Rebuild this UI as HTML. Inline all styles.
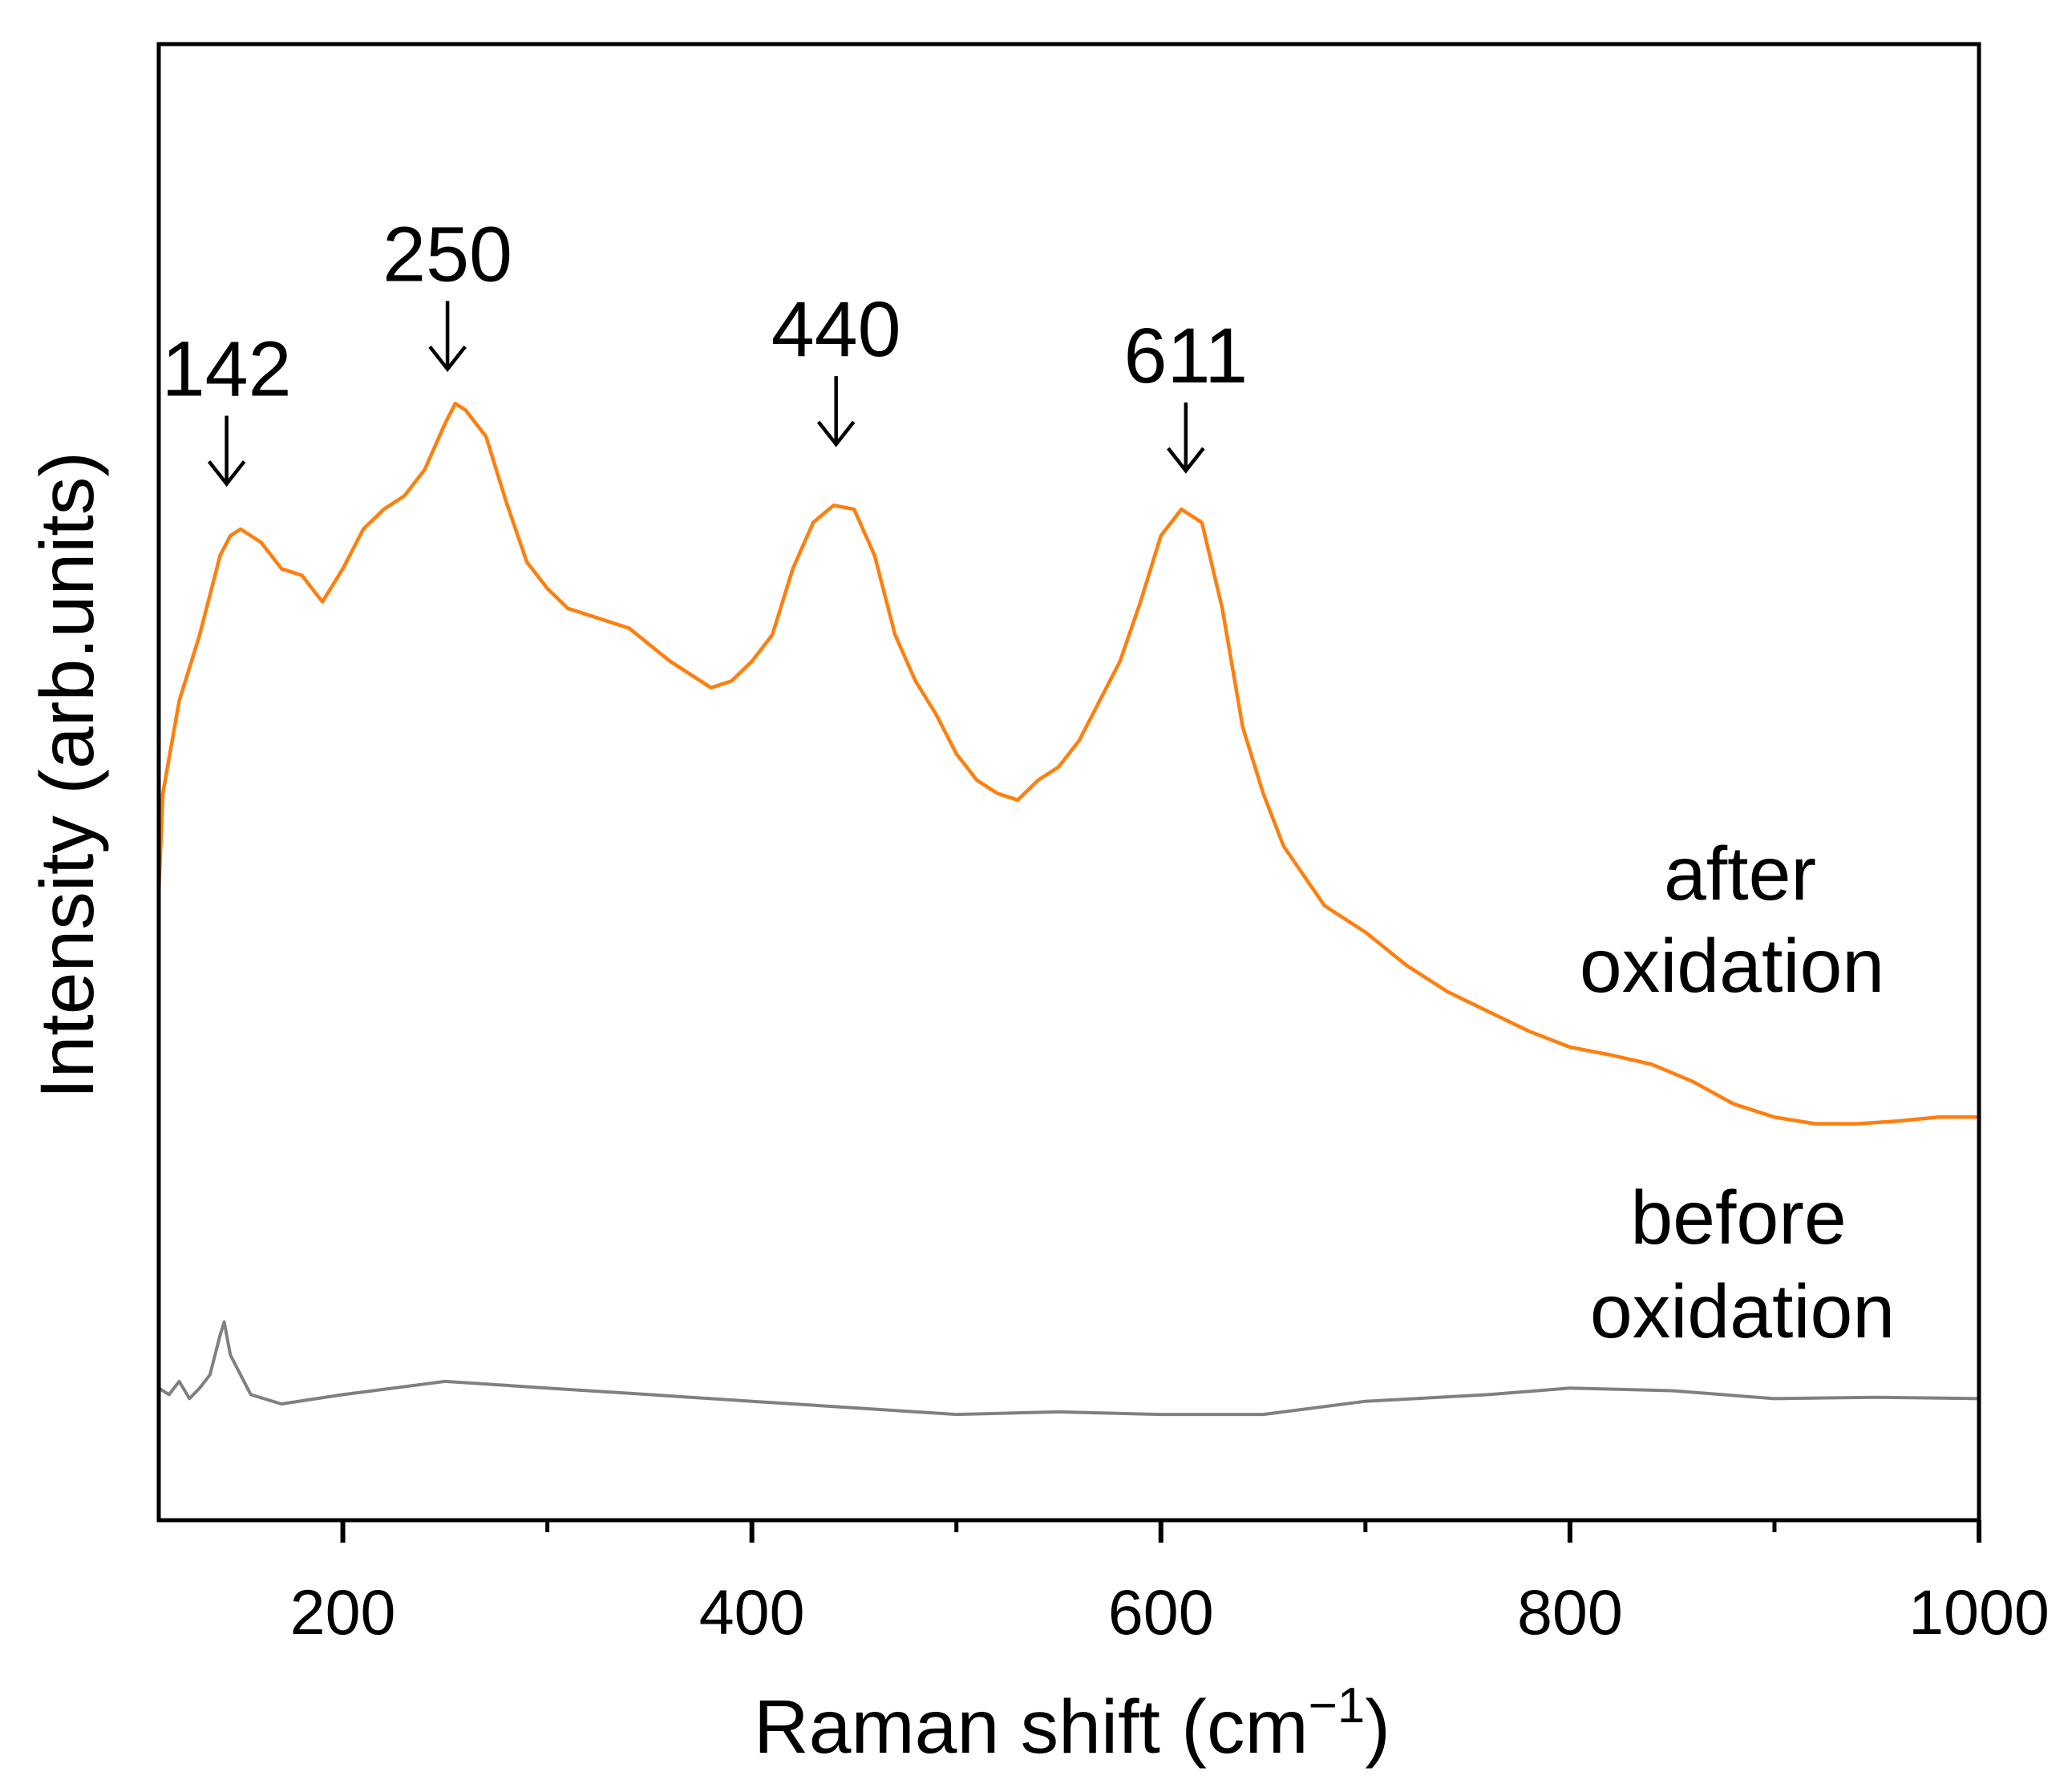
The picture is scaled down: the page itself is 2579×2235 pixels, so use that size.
<!DOCTYPE html>
<html><head><meta charset="utf-8"><style>
html,body{margin:0;padding:0;background:#fff;position:relative}
svg{display:block;font-family:"Liberation Sans",Arial,sans-serif;}
</style></head><body>
<svg id="chart" width="2579" height="2235" viewBox="0 0 2579 2235" xmlns="http://www.w3.org/2000/svg">
<g id="plot"></g>
</svg>
<script>
const xTicks=[200,400,600,800,1000];
const xMinor=[300,500,700,900];
const afterX=[110,112,120,130,140,145,150,160,170,180,190,200,210,220,230,240,250,255,260,270,280,290,300,310,320,340,360,380,390,400,410,420,430,440,450,460,470,480,490,500,510,520,530,540,550,560,570,580,590,600,610,620,630,640,650,660,680,700,720,740,760,780,800,820,840,860,880,900,920,940,960,980,1000];
const afterY=[475,550,620,670,730,745,750,740,720,715,695,720,750,765,775,795,830,845,840,820,770,725,705,690,685,675,650,630,635,650,670,720,755,768,765,730,670,635,610,580,560,550,545,560,570,590,620,650,695,745,765,755,690,600,550,510,465,445,420,400,385,370,358,352,345,332,315,305,300,300,302,305,305];
const beforeX=[110,115,120,125,130,135,140,142,145,150,155,170,200,250,300,350,400,450,500,550,600,650,700,760,800,850,900,950,1000];
const beforeY=[100,95,105,92,100,110,140,150,125,110,95,88,95,105,100,95,90,85,80,82,80,80,90,95,100,98,92,93,92];
const peakLabels=["142","250","440","611"];
const peakX=[142,250,440,611];
const peakTop=[300,213,270,290];

const L=198,R=2468,T=55,B=1896;
const X0=110,X1=1000, Y0=0, Y1=1117;
const sx=v=>L+(v-X0)/(X1-X0)*(R-L);
const sy=v=>B-(v-Y0)/(Y1-Y0)*(B-T);
const NS="http://www.w3.org/2000/svg";
const g=document.getElementById('plot');
function mk(tag,attrs,parent){const e=document.createElementNS(NS,tag);for(const k in attrs)e.setAttribute(k,attrs[k]);(parent||g).appendChild(e);return e;}

let d='';afterX.forEach((x,i)=>{d+=(i?'L':'M')+sx(x).toFixed(1)+' '+sy(afterY[i]).toFixed(1);});
const p1=mk('path',{d:d,fill:'none',stroke:'#ff7f0e','stroke-width':4.5,'stroke-linejoin':'round'});


d='';beforeX.forEach((x,i)=>{d+=(i?'L':'M')+sx(x).toFixed(1)+' '+sy(beforeY[i]).toFixed(1);});
const p2=mk('path',{d:d,fill:'none',stroke:'#808080','stroke-width':4,'stroke-linejoin':'round'});



const fr=mk('rect',{x:L,y:T,width:R-L,height:B-T,fill:'none',stroke:'#000','stroke-width':5});



xTicks.forEach(v=>{
  const t=mk('line',{x1:sx(v),x2:sx(v),y1:B,y2:B+28,stroke:'#000','stroke-width':6});
  
  
  const tl=mk('text',{x:sx(v),y:2038,'font-size':79,'text-anchor':'middle',fill:'#000'});
  tl.textContent=v;
  
  
});
xMinor.forEach(v=>{
  const t=mk('line',{x1:sx(v),x2:sx(v),y1:B,y2:B+15,stroke:'#000','stroke-width':5});
  
  
});

peakLabels.forEach((lab,i)=>{
  const cx=sx(peakX[i])+3, ty=peakTop[i]*1.645;
  const t=mk('text',{x:cx,y:ty,'font-size':97,'text-anchor':'middle',fill:'#000'});
  t.textContent=lab;
  
  
  const a=mk('path',{d:`M${cx} ${ty+25}V${ty+110}M${cx-22} ${ty+82}L${cx} ${ty+110}L${cx+22} ${ty+82}`,fill:'none',stroke:'#000','stroke-width':4.5});
  
  
});
</script>
<svg style="position:absolute;left:0;top:0" width="2579" height="2235" viewBox="0 0 2579 2235" xmlns="http://www.w3.org/2000/svg" font-family="Liberation Sans, Arial, sans-serif">
<text x="2170" y="1122" font-size="95" text-anchor="middle">after</text>
<text x="2160" y="1237" font-size="95" text-anchor="middle">oxidation</text>
<text x="2168" y="1551" font-size="95" text-anchor="middle">before</text>
<text x="2173" y="1668" font-size="95" text-anchor="middle">oxidation</text>
<text x="1337" y="2186" font-size="95" text-anchor="middle">Raman shift (cm<tspan dy="-38" font-size="62">−1</tspan><tspan dy="38">)</tspan></text>
<text transform="translate(116,967) rotate(-90)" font-size="95" text-anchor="middle">Intensity (arb.units)</text>
</svg>
</body></html>
